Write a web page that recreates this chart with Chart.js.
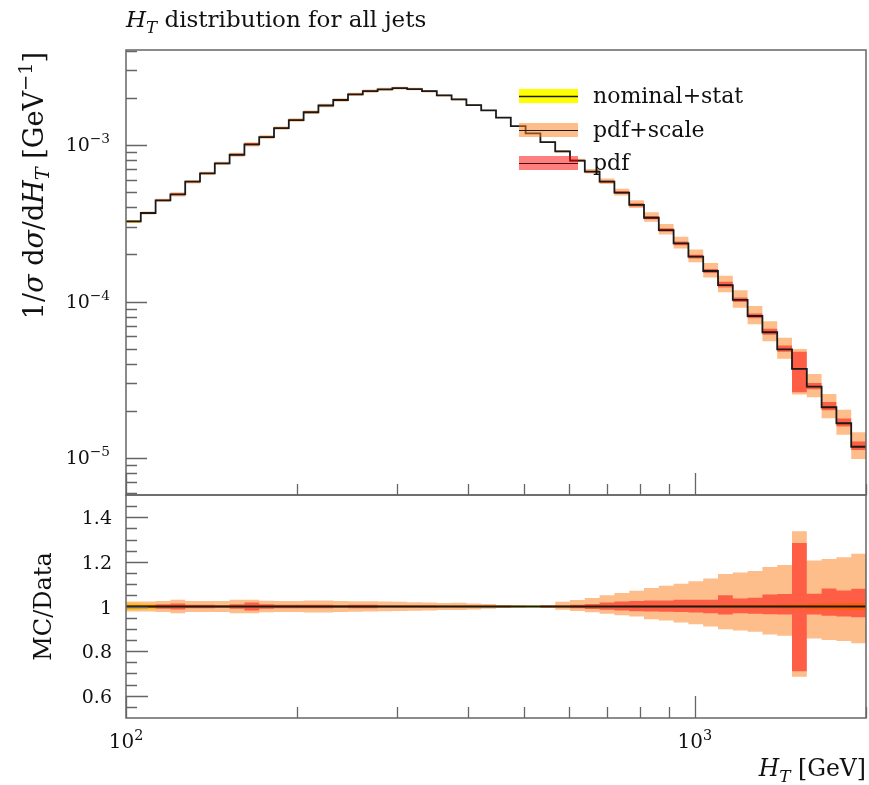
<!DOCTYPE html>
<html>
<head>
<meta charset="utf-8">
<script src="https://cdn.jsdelivr.net/npm/chart.js@4.4.1/dist/chart.umd.min.js"></script>
<style>
  body { margin: 0; background: #fff; }
  #wrap { position: relative; width: 869px; height: 785px; }
  #top { position: absolute; left: 0; top: 0; }
  #ratio { position: absolute; left: 0; top: 490px; }
</style>
</head>
<body>
<div id="wrap">
  <canvas id="top" width="869" height="500"></canvas>
  <canvas id="ratio" width="869" height="295"></canvas>
</div>
<script>
// bin edges in H_T [GeV]
const binEdges = [100, 106.17, 112.73, 119.69, 127.08, 134.93, 143.26, 152.11, 161.50, 171.47,
  182.06, 193.30, 205.24, 217.91, 231.37, 245.65, 260.82, 276.92, 294.02, 312.17,
  331.44, 351.91, 373.64, 396.71, 421.20, 447.21, 474.83, 504.14, 535.27, 568.32,
  603.42, 640.68, 680.24, 722.24, 766.84, 814.19, 864.46, 917.84, 974.51, 1034.68,
  1098.57, 1166.40, 1238.42, 1314.89, 1396.08, 1482.28, 1573.80, 1670.98, 1774.16, 1883.71, 2000];

// 1/sigma dsigma/dHT per bin
const mcValues = [3.25e-4, 3.68e-4, 4.43e-4, 4.84e-4, 5.83e-4, 6.59e-4, 7.64e-4, 8.67e-4, 1.01e-3, 1.125e-3,
  1.284e-3, 1.445e-3, 1.62e-3, 1.79e-3, 1.94e-3, 2.11e-3, 2.21e-3, 2.27e-3, 2.31e-3, 2.28e-3,
  2.21e-3, 2.08e-3, 1.96e-3, 1.80e-3, 1.665e-3, 1.496e-3, 1.32e-3, 1.187e-3, 1.045e-3, 9.1e-4,
  7.94e-4, 6.76e-4, 5.83e-4, 4.96e-4, 4.14e-4, 3.43e-4, 2.86e-4, 2.35e-4, 1.934e-4, 1.567e-4,
  1.274e-4, 1.023e-4, 8.08e-5, 6.36e-5, 4.95e-5, 3.71e-5, 2.855e-5, 2.11e-5, 1.667e-5, 1.18e-5];

// relative uncertainties (up / down)
const statErr = [0.015, 0.012, 0.006, 0.004, 0.004, 0.004, 0.004, 0.004, 0.004, 0.004,
  0.004, 0.004, 0.004, 0.004, 0.004, 0.004, 0.004, 0.004, 0.004, 0.004,
  0.004, 0.004, 0.004, 0.004, 0.004, 0.004, 0.004, 0.004, 0.004, 0.005,
  0.005, 0.005, 0.005, 0.005, 0.005, 0.005, 0.005, 0.005, 0.005, 0.006,
  0.008, 0.008, 0.008, 0.008, 0.009, 0.010, 0.012, 0.014, 0.015, 0.016];

const scaleUp = [0.022, 0.022, 0.025, 0.030, 0.025, 0.025, 0.025, 0.030, 0.030, 0.026,
  0.025, 0.025, 0.027, 0.027, 0.025, 0.024, 0.023, 0.022, 0.021, 0.019,
  0.018, 0.016, 0.017, 0.014, 0.011, 0.007, 0.004, 0.0015, 0.006, 0.021,
  0.029, 0.038, 0.050, 0.060, 0.071, 0.083, 0.093, 0.102, 0.113, 0.126,
  0.146, 0.153, 0.159, 0.177, 0.186, 0.338, 0.206, 0.213, 0.221, 0.237];
const scaleDown = [0.022, 0.022, 0.025, 0.030, 0.025, 0.025, 0.025, 0.030, 0.030, 0.026,
  0.025, 0.025, 0.027, 0.027, 0.025, 0.023, 0.022, 0.021, 0.020, 0.019,
  0.018, 0.016, 0.016, 0.013, 0.010, 0.007, 0.004, 0.0015, 0.006, 0.015,
  0.020, 0.026, 0.033, 0.039, 0.045, 0.057, 0.063, 0.072, 0.080, 0.090,
  0.102, 0.108, 0.113, 0.125, 0.131, 0.315, 0.144, 0.150, 0.155, 0.165];

const pdfUp = [0.006, 0.006, 0.010, 0.014, 0.008, 0.008, 0.006, 0.010, 0.018, 0.010,
  0.008, 0.008, 0.008, 0.008, 0.006, 0.008, 0.008, 0.005, 0.005, 0.005,
  0.005, 0.003, 0.003, 0.003, 0.003, 0.003, 0.002, 0.001, 0.005, 0.005,
  0.008, 0.011, 0.018, 0.022, 0.025, 0.027, 0.027, 0.030, 0.030, 0.030,
  0.050, 0.036, 0.039, 0.054, 0.056, 0.285, 0.057, 0.081, 0.072, 0.080];
const pdfDown = [0.006, 0.006, 0.010, 0.014, 0.008, 0.008, 0.006, 0.010, 0.018, 0.010,
  0.008, 0.008, 0.008, 0.008, 0.006, 0.008, 0.008, 0.005, 0.005, 0.005,
  0.005, 0.003, 0.003, 0.003, 0.003, 0.003, 0.002, 0.001, 0.005, 0.005,
  0.008, 0.011, 0.015, 0.018, 0.021, 0.022, 0.024, 0.025, 0.027, 0.030,
  0.036, 0.030, 0.033, 0.035, 0.036, 0.290, 0.036, 0.042, 0.045, 0.048];

// axis ticks and labels
const xTickValues = [100, 1000];
const xTickExps = ['2', '3'];
const xMinorTicks = [200, 300, 400, 500, 600, 700, 800, 900, 2000];
const topTickValues = [1e-5, 1e-4, 1e-3];
const topTickExps = ['\u22125', '\u22124', '\u22123'];
const ratioTickValues = [0.6, 0.8, 1, 1.2, 1.4];
const ratioTickLabels = ['0.6', '0.8', '1', '1.2', '1.4'];

const legendLabels = ['nominal+stat', 'pdf+scale', 'pdf'];

const SERIF = '"DejaVu Serif", "Liberation Serif", serif';
const YELLOW = '#ffff00';
const PEACH = 'rgba(251,125,25,0.5)';
const RED = 'rgba(255,0,0,0.5)';
const AXIS = '#666';

function steps(vals) {
  const pts = vals.map((v, i) => ({ x: binEdges[i], y: v }));
  pts.push({ x: binEdges[vals.length], y: vals[vals.length - 1] });
  return pts;
}

function band(hi, lo, color) {
  return [
    { data: steps(hi), borderWidth: 0, borderColor: 'transparent', stepped: true, fill: false, pointRadius: 0 },
    { data: steps(lo), borderWidth: 0, borderColor: 'transparent', stepped: true, fill: '-1', backgroundColor: color, pointRadius: 0 }
  ];
}

// first dataset is painted last, so the nominal line sits on top
function buildDatasets(center) {
  const up = (e) => center.map((c, i) => c * (1 + e[i]));
  const dn = (e) => center.map((c, i) => c * (1 - e[i]));
  return [
    { data: steps(center), borderColor: '#1a1a1a', borderWidth: 1.8, stepped: true, fill: false, pointRadius: 0 },
    ...band(up(pdfUp), dn(pdfDown), RED),
    ...band(up(scaleUp), dn(scaleDown), PEACH),
    ...band(up(statErr), dn(statErr), YELLOW)
  ];
}

// text runs with italic / sub / sup pieces
function richText(ctx, parts, x, y, align, size) {
  const fonts = parts.map(p => (p.i ? 'italic ' : '') + (p.s ? size * 0.72 : size).toFixed(1) + 'px ' + SERIF);
  const widths = parts.map((p, k) => { ctx.font = fonts[k]; return ctx.measureText(p.t).width; });
  const total = widths.reduce((a, b) => a + b, 0);
  let cx = align === 'right' ? x - total : align === 'center' ? x - total / 2 : x;
  ctx.textAlign = 'left';
  ctx.textBaseline = 'alphabetic';
  parts.forEach((p, k) => {
    ctx.font = fonts[k];
    const dy = p.s === 'sup' ? -size * 0.42 : p.s === 'sub' ? size * 0.24 : 0;
    ctx.fillText(p.t, cx, y + dy);
    cx += widths[k];
  });
}

function frame(ctx, a) {
  ctx.strokeStyle = AXIS;
  ctx.lineWidth = 1.5;
  ctx.strokeRect(a.left, a.top, a.right - a.left, a.bottom - a.top);
}

function xTicks(ctx, chart) {
  const a = chart.chartArea, sx = chart.scales.x;
  ctx.strokeStyle = AXIS;
  ctx.lineWidth = 1.3;
  ctx.beginPath();
  xTickValues.forEach(v => { const px = Math.round(sx.getPixelForValue(v)) + 0.5; ctx.moveTo(px, a.bottom); ctx.lineTo(px, a.bottom - 22); });
  xMinorTicks.forEach(v => { const px = Math.round(sx.getPixelForValue(v)) + 0.5; ctx.moveTo(px, a.bottom); ctx.lineTo(px, a.bottom - 11); });
  ctx.stroke();
}

const topPanel = {
  id: 'topPanel',
  afterDatasetsDraw(chart) {
    const ctx = chart.ctx, a = chart.chartArea, sy = chart.scales.y;
    ctx.save();
    frame(ctx, a);
    xTicks(ctx, chart);

    // log y ticks
    ctx.beginPath();
    for (let e = -6; e <= -3; e++) {
      for (let m = 1; m <= 9; m++) {
        const v = m * Math.pow(10, e);
        if (v <= sy.min || v >= sy.max) continue;
        const py = Math.round(sy.getPixelForValue(v)) + 0.5;
        ctx.moveTo(a.left, py);
        ctx.lineTo(a.left + (m === 1 ? 21 : 11), py);
      }
    }
    ctx.stroke();

    ctx.fillStyle = '#111';
    topTickValues.forEach((v, k) => {
      const py = sy.getPixelForValue(v);
      richText(ctx, [{ t: '10' }, { t: topTickExps[k], s: 'sup' }], 110, py + 6, 'right', 19);
    });

    // legend
    const lx = 519, lw = 59, rows = [96, 130, 163];
    const fills = [YELLOW, PEACH, RED];
    rows.forEach((cy, k) => {
      ctx.fillStyle = fills[k];
      ctx.fillRect(lx, cy - 7, lw, 14);
      ctx.strokeStyle = k === 2 ? '#4a1010' : '#1a1a1a';
      ctx.lineWidth = k === 0 ? 1.6 : 1.1;
      ctx.beginPath();
      ctx.moveTo(lx, cy + 0.5);
      ctx.lineTo(lx + lw, cy + 0.5);
      ctx.stroke();
      ctx.fillStyle = '#111';
      richText(ctx, [{ t: legendLabels[k] }], 593, cy + 7, 'left', 22);
    });

    // title
    richText(ctx, [{ t: 'H', i: true }, { t: 'T', i: true, s: 'sub' }, { t: ' distribution for all jets' }], 126, 27, 'left', 23);

    // y axis title
    ctx.translate(43, 52);
    ctx.rotate(-Math.PI / 2);
    richText(ctx, [
      { t: '1/' }, { t: '\u03c3', i: true }, { t: ' d' }, { t: '\u03c3', i: true }, { t: '/d' },
      { t: 'H', i: true }, { t: 'T', i: true, s: 'sub' }, { t: ' [GeV' }, { t: '\u22121', s: 'sup' }, { t: ']' }
    ], 0, 0, 'right', 27);
    ctx.restore();
  }
};

const ratioPanel = {
  id: 'ratioPanel',
  afterDatasetsDraw(chart) {
    const ctx = chart.ctx, a = chart.chartArea, sx = chart.scales.x, sy = chart.scales.y;
    ctx.save();
    frame(ctx, a);
    xTicks(ctx, chart);

    ctx.beginPath();
    for (let k = 11; k <= 29; k++) {
      const v = k * 0.05;
      const py = Math.round(sy.getPixelForValue(v)) + 0.5;
      const major = k % 4 === 0;
      ctx.moveTo(a.left, py);
      ctx.lineTo(a.left + (major ? 22 : 11), py);
    }
    ctx.stroke();

    ctx.fillStyle = '#111';
    ratioTickValues.forEach((v, k) => {
      richText(ctx, [{ t: ratioTickLabels[k] }], 112, sy.getPixelForValue(v) + 7, 'right', 19);
    });
    xTickValues.forEach((v, k) => {
      richText(ctx, [{ t: '10' }, { t: xTickExps[k], s: 'sup' }], sx.getPixelForValue(v), 258, 'center', 20);
    });

    richText(ctx, [{ t: 'H', i: true }, { t: 'T', i: true, s: 'sub' }, { t: ' [GeV]' }], 866, 286, 'right', 23.5);

    ctx.translate(51, a.top + (a.bottom - a.top) / 2);
    ctx.rotate(-Math.PI / 2);
    richText(ctx, [{ t: 'MC/Data' }], 0, 0, 'center', 24);
    ctx.restore();
  }
};

const commonOptions = {
  responsive: false,
  animation: false,
  plugins: { legend: { display: false }, tooltip: { enabled: false } },
  elements: { point: { radius: 0 }, line: { tension: 0 } }
};

new Chart(document.getElementById('top'), {
  type: 'line',
  data: { datasets: buildDatasets(mcValues) },
  options: {
    ...commonOptions,
    layout: { padding: { left: 126, top: 50, right: 3, bottom: 5 } },
    scales: {
      x: { type: 'logarithmic', min: 100, max: 2000, display: false },
      y: { type: 'logarithmic', min: 5.8e-6, max: 4.05e-3, display: false }
    }
  },
  plugins: [topPanel]
});

new Chart(document.getElementById('ratio'), {
  type: 'line',
  data: { datasets: buildDatasets(mcValues.map(() => 1)) },
  options: {
    ...commonOptions,
    layout: { padding: { left: 126, top: 5, right: 3, bottom: 67 } },
    scales: {
      x: { type: 'logarithmic', min: 100, max: 2000, display: false },
      y: { type: 'linear', min: 0.5, max: 1.5, display: false }
    }
  },
  plugins: [ratioPanel]
});
</script>
</body>
</html>
